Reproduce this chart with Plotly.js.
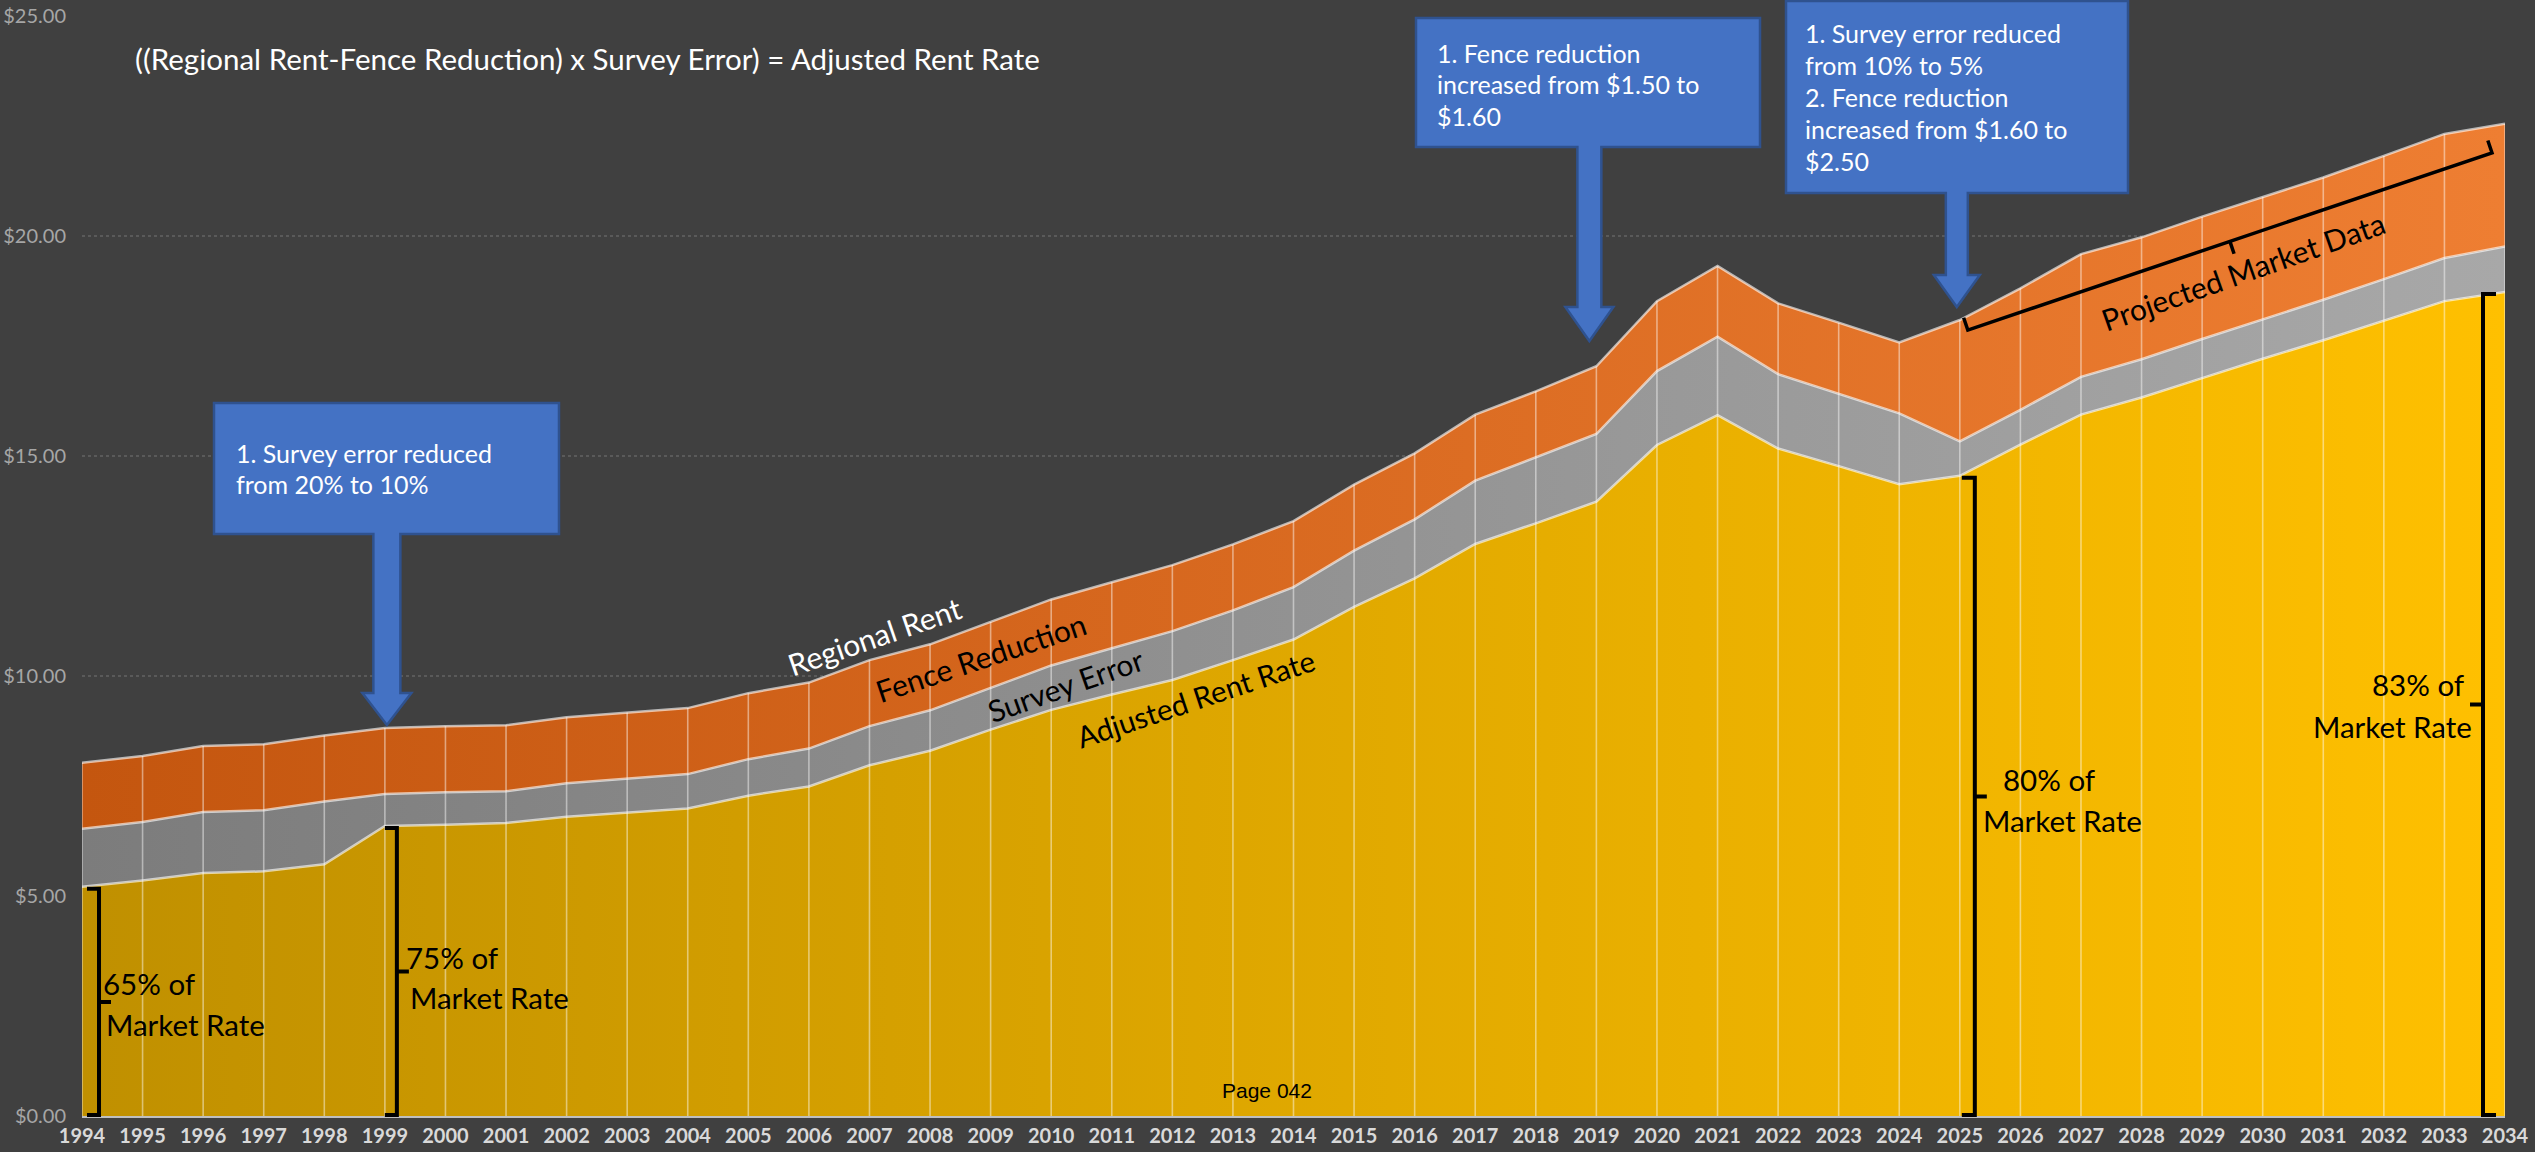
<!DOCTYPE html>
<html><head><meta charset="utf-8">
<script src="https://cdn.plot.ly/plotly-3.0.1.min.js"></script>
<style>html,body{margin:0;padding:0;background:#404040;}#chart{width:2535px;height:1152px;}</style>
</head><body><div id="chart"></div>
<script>
// ---------------- data ----------------
const years = [1994,1995,1996,1997,1998,1999,2000,2001,2002,2003,2004,2005,2006,2007,2008,2009,2010,2011,2012,2013,2014,
               2015,2016,2017,2018,2019,2020,2021,2022,2023,2024,2025,2026,2027,2028,2029,2030,2031,2032,2033,2034];
// Adjusted Rent Rate (bottom band)
const adjustedRent = [5.21,5.35,5.52,5.56,5.72,6.59,6.62,6.66,6.80,6.90,6.99,7.28,7.49,7.97,8.30,8.78,9.23,9.58,9.91,10.36,10.83,
                      11.57,12.22,13.00,13.47,13.96,15.25,15.93,15.17,14.77,14.36,14.55,15.26,15.94,16.33,16.77,17.21,17.63,18.07,18.52,18.73];
// Survey Error (middle band thickness)
const surveyError = [1.32,1.33,1.39,1.39,1.43,0.73,0.74,0.72,0.76,0.77,0.78,0.83,0.86,0.89,0.92,0.95,1.01,1.05,1.11,1.13,1.19,
                     1.28,1.34,1.44,1.50,1.54,1.68,1.78,1.69,1.65,1.61,0.78,0.79,0.86,0.87,0.89,0.89,0.92,0.95,0.98,1.03];
// Fence Reduction (top band thickness)
const fenceReduction = [1.50,1.50,1.50,1.50,1.50,1.50,1.50,1.50,1.50,1.50,1.50,1.50,1.50,1.50,1.50,1.50,1.50,1.50,1.50,1.50,1.50,
                        1.50,1.50,1.50,1.50,1.54,1.59,1.61,1.61,1.61,1.61,2.76,2.76,2.79,2.77,2.78,2.79,2.78,2.80,2.82,2.79];
const seriesNames = ["Adjusted Rent Rate","Survey Error","Fence Reduction","Regional Rent"];
const yTicks = [0,5,10,15,20,25];
const titleText = "((Regional Rent-Fence Reduction) x Survey Error) = Adjusted Rent Rate";
const callouts = [
  {year:1999, lines:["1. Survey error reduced","from 20% to 10%"]},
  {year:2019, lines:["1. Fence reduction","increased from $1.50 to","$1.60"]},
  {year:2025, lines:["1. Survey error reduced","from 10% to 5%","2. Fence reduction","increased from $1.60 to","$2.50"]}
];
const braceLabels = [
  {year:1994, lines:["65% of","Market Rate"]},
  {year:1999, lines:["75% of","Market Rate"]},
  {year:2025, lines:["80% of","Market Rate"]},
  {year:2034, lines:["83% of","Market Rate"]}
];
const projectedLabel = "Projected Market Data";
const pageLabel = "Page 042";

// ---------------- geometry ----------------
const W=2535, H=1152, M={l:82,r:30,t:16,b:36};
const PW=W-M.l-M.r, PH=H-M.t-M.b;
const X0=1994, X1=2034, Y0=0, Y1=25;
const px = yr => M.l + (yr-X0)/(X1-X0)*PW;      // year -> page px
const py = v  => M.t + (Y1-v)/(Y1-Y0)*PH;       // value -> page px
const xp = x => (x-M.l)/PW;                     // page px -> paper
const yp = y => (M.t+PH-y)/PH;
const P = (x,y) => xp(x).toFixed(5)+','+yp(y).toFixed(5);
const FONT = 'Lato, "Open Sans", sans-serif';
const idx = yr => years.indexOf(yr);

const gray = adjustedRent.map((a,i)=>a+surveyError[i]);
const total = gray.map((g,i)=>g+fenceReduction[i]);

// ---------------- traces ----------------
const lineStyle = {color:'rgba(255,255,255,0.62)', width:2.5};
const traces = [
  {x:years, y:adjustedRent, name:seriesNames[0], type:'scatter', mode:'lines', stackgroup:'one',
   line:lineStyle, fillgradient:{type:'horizontal', colorscale:[[0,'#C09000'],[1,'#FFC000']]}, hoverinfo:'skip'},
  {x:years, y:surveyError, name:seriesNames[1], type:'scatter', mode:'lines', stackgroup:'one',
   line:lineStyle, fillgradient:{type:'horizontal', colorscale:[[0,'#7C7C7C'],[1,'#A8A8A8']]}, hoverinfo:'skip'},
  {x:years, y:fenceReduction, name:seriesNames[2], type:'scatter', mode:'lines', stackgroup:'one',
   line:lineStyle, fillgradient:{type:'horizontal', colorscale:[[0,'#C4560F'],[1,'#EE7E32']]}, hoverinfo:'skip'},
  {x:years.flatMap(y=>[y,y,null]), y:total.flatMap(t=>[0,t,null]), type:'scatter', mode:'lines',
   line:{color:'rgba(255,255,255,0.45)', width:1.6}, hoverinfo:'skip', showlegend:false}
];

// ---------------- shapes ----------------
const shapes = [];
function calloutPath(b, cx, sh, hh, hy, tipy){
  return 'M'+P(b[0],b[1])+' L'+P(b[2],b[1])+' L'+P(b[2],b[3])+' L'+P(cx+sh,b[3])+' L'+P(cx+sh,hy)+
         ' L'+P(cx+hh,hy)+' L'+P(cx,tipy)+' L'+P(cx-hh,hy)+' L'+P(cx-sh,hy)+' L'+P(cx-sh,b[3])+
         ' L'+P(b[0],b[3])+' Z';
}
const calloutGeo = [
  {box:[214,403,559,534], dx:2,  sh:13.5, hh:24.5, hy:693, tip:725, tx:234, ty:[453,484]},
  {box:[1416,18,1760,147], dx:-7, sh:12,  hh:24,   hy:307, tip:341, tx:1435, ty:[53,84,116]},
  {box:[1786,1,2128,193], dx:-3, sh:11,  hh:23,   hy:275, tip:307, tx:1803, ty:[33,65,97,129,161]}
];
callouts.forEach((c,k)=>{
  const g = calloutGeo[k];
  shapes.push({type:'path', xref:'paper', yref:'paper', path:calloutPath(g.box, px(c.year)+g.dx, g.sh, g.hh, g.hy, g.tip),
    fillcolor:'#4472C4', line:{color:'#2F528F', width:2.5}, layer:'above'});
});
// vertical braces
function vbrace(xv, ytop, ybot, hook, nub){
  const ym=(ytop+ybot)/2;
  return 'M'+P(xv+hook,ytop)+' L'+P(xv,ytop)+' L'+P(xv,ybot)+' L'+P(xv+hook,ybot)+' M'+P(xv,ym)+' L'+P(xv+nub,ym);
}
const braceGeo = [
  {dx:17, hook:-12, nub:12},
  {dx:12, hook:-12, nub:12},
  {dx:15, hook:-13, nub:12},
  {dx:-22, hook:13, nub:-13}
];
braceLabels.forEach((b,k)=>{
  const g = braceGeo[k], i = idx(b.year);
  shapes.push({type:'path', xref:'paper', yref:'paper', path:vbrace(px(b.year)+g.dx, py(adjustedRent[i])+2, py(0)-1, g.hook, g.nub),
    line:{color:'#000000', width:4}, layer:'above'});
});
// rotated brace along projected section
(function(){
  const i0=idx(2025), i1=idx(2034);
  const a=[px(2025)+8, py(total[i0])+10], b=[px(2034)-13, py(total[i1])+29];
  const dx=b[0]-a[0], dy=b[1]-a[1], L=Math.hypot(dx,dy);
  const n=[dy/L, -dx/L]; // perpendicular pointing up-left
  const m=[(a[0]+b[0])/2,(a[1]+b[1])/2];
  const hk=13;
  const path='M'+P(a[0]+n[0]*hk,a[1]+n[1]*hk)+' L'+P(a[0],a[1])+' L'+P(b[0],b[1])+' L'+P(b[0]+n[0]*hk,b[1]+n[1]*hk)+
             ' M'+P(m[0],m[1])+' L'+P(m[0]-n[0]*hk,m[1]-n[1]*hk);
  shapes.push({type:'path', xref:'paper', yref:'paper', path:path, line:{color:'#000000', width:3.5}, layer:'above'});
})();

// ---------------- annotations ----------------
const ann = [];
function txt(t, x, y, o={}){
  ann.push(Object.assign({text:t, xref:'paper', yref:'paper', x:xp(x), y:yp(y), showarrow:false,
    xanchor:'left', yanchor:'middle', font:{family:FONT, size:24, color:'#FFFFFF'}}, o));
}
txt(titleText, 133, 58, {font:{family:FONT, size:29.5, color:'#FFFFFF'}});
callouts.forEach((c,k)=>{
  const g=calloutGeo[k];
  c.lines.forEach((l,j)=>txt(l, g.tx, g.ty[j], {font:{family:FONT, size:25, color:'#FFFFFF'}}));
});
// series labels
const sl = 30;
txt(seriesNames[3], 874, 636, {xanchor:'center', textangle:-19, font:{family:FONT, size:sl, color:'#FFFFFF'}});
txt(seriesNames[2], 981, 657, {xanchor:'center', textangle:-18.5, font:{family:FONT, size:sl, color:'#000000'}});
txt(seriesNames[1], 1065, 685, {xanchor:'center', textangle:-19.5, font:{family:FONT, size:sl, color:'#000000'}});
txt(seriesNames[0], 1195, 698, {xanchor:'center', textangle:-18.5, font:{family:FONT, size:29.5, color:'#000000'}});
// brace labels
const bl = {family:FONT, size:29.5, color:'#000000'};
txt(braceLabels[0].lines[0], 101, 983, {font:bl});
txt(braceLabels[0].lines[1], 104, 1024, {font:bl});
txt(braceLabels[1].lines[0], 404, 957, {font:bl});
txt(braceLabels[1].lines[1], 408, 997, {font:bl});
txt(braceLabels[2].lines[0], 2049, 779, {font:bl, xanchor:'center'});
txt(braceLabels[2].lines[1], 2062, 820, {font:bl, xanchor:'center'});
txt(braceLabels[3].lines[0], 2467, 684, {font:bl, xanchor:'right'});
txt(braceLabels[3].lines[1], 2474, 726, {font:bl, xanchor:'right'});
txt(projectedLabel, 2243, 271, {xanchor:'center', textangle:-19.5, font:{family:FONT, size:30, color:'#000000'}});
txt(pageLabel, 1267, 1090, {xanchor:'center', font:{family:'"Liberation Sans", Arial, sans-serif', size:21, color:'#000000'}});

// ---------------- layout ----------------
const layout = {
  width:W, height:H, margin:M, paper_bgcolor:'#404040', plot_bgcolor:'#404040', showlegend:false,
  xaxis:{range:[X0,X1], tickmode:'array', tickvals:years, ticktext:years.map(String), showgrid:false, zeroline:false,
         showline:true, linecolor:'#BFBFBF', linewidth:2, ticks:'', ticklabelstandoff:1,
         tickfont:{family:FONT, size:20, color:'#D9D9D9', weight:'bold'}, fixedrange:true},
  yaxis:{range:[Y0,Y1], tickmode:'array', tickvals:yTicks, ticktext:yTicks.map(v=>'$'+v.toFixed(2)),
         showgrid:true, gridcolor:'#5A5A5A', gridwidth:2, griddash:'dot', zeroline:false, showline:false,
         ticks:'', ticklabelstandoff:15, tickfont:{family:FONT, size:20, color:'#A6A6A6'}, fixedrange:true},
  shapes:shapes, annotations:ann
};
Plotly.newPlot('chart', traces, layout, {displayModeBar:false, staticPlot:true});
</script></body></html>
